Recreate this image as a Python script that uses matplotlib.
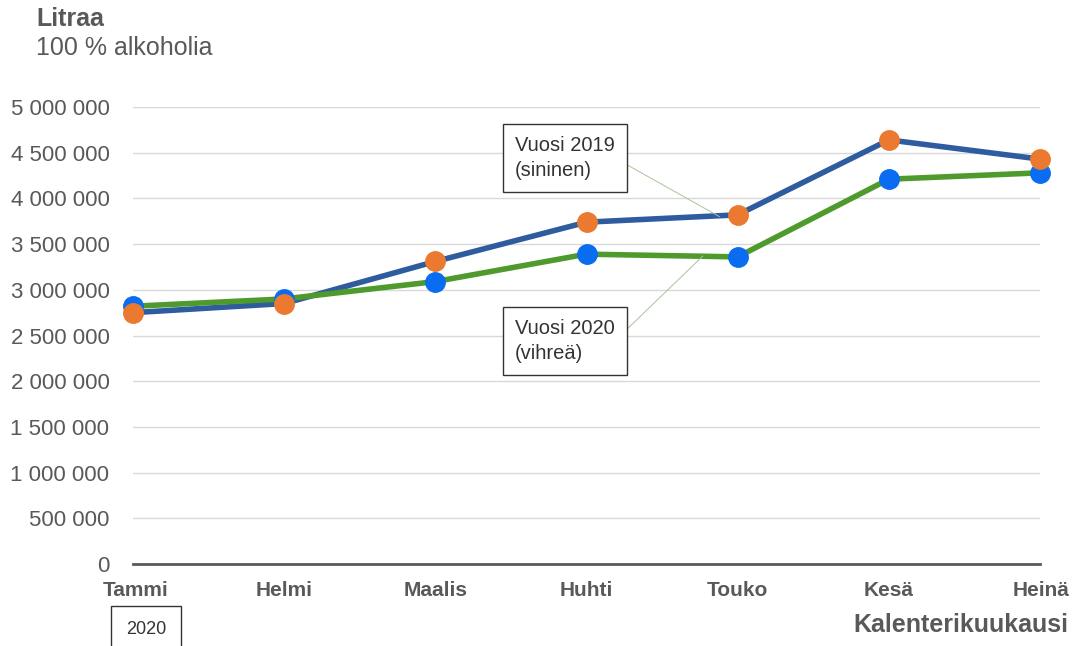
import matplotlib
matplotlib.use("Agg")
import matplotlib.pyplot as plt
import matplotlib.transforms as mtransforms
from matplotlib.ticker import FuncFormatter

plt.rcParams['font.family'] = ['Liberation Sans', 'DejaVu Sans']

months = ["Tammi", "Helmi", "Maalis", "Huhti", "Touko", "Kesä", "Heinä"]
vuosi_2019 = [2750000, 2850000, 3310000, 3740000, 3820000, 4640000, 4430000]
vuosi_2020 = [2820000, 2900000, 3090000, 3390000, 3360000, 4210000, 4280000]
y_ticks = [0, 500000, 1000000, 1500000, 2000000, 2500000, 3000000, 3500000, 4000000, 4500000, 5000000]

W, H = 1079, 646
fig = plt.figure(figsize=(W / 100, H / 100), dpi=100)
ax = fig.add_axes([133 / W, 1 - 564 / H, (1040 - 133) / W, (564 - 107) / H])

x = list(range(len(months)))
ax.plot(x, vuosi_2019, color="#2F5C9E", lw=4, solid_capstyle="round", zorder=3, clip_on=False)
ax.plot(x, vuosi_2020, color="#4F9A2C", lw=4, solid_capstyle="round", zorder=3, clip_on=False)
ax.plot(x, vuosi_2020, ls="none", marker="o", ms=14, color="#0A6CF0", zorder=4, clip_on=False)
ax.plot(x, vuosi_2019, ls="none", marker="o", ms=14, color="#EB7A30", zorder=5, clip_on=False)

ax.set_xlim(0, len(months) - 1)
ax.set_ylim(0, 5000000)
ax.set_yticks(y_ticks)
ax.yaxis.set_major_formatter(FuncFormatter(lambda v, p: f"{int(v):,}".replace(",", " ")))
ax.set_xticks(x)
ax.set_xticklabels(months, fontsize=15, fontweight="bold", color="#595959")
ax.tick_params(axis="y", length=0, labelsize=16, labelcolor="#595959", pad=17)
ax.tick_params(axis="x", length=0, pad=12)
labs = ax.get_xticklabels()
labs[0].set_transform(labs[0].get_transform() + mtransforms.ScaledTranslation(-30 / 100, 0, fig.dpi_scale_trans))
labs[0].set_ha("left")
labs[-1].set_transform(labs[-1].get_transform() + mtransforms.ScaledTranslation(30 / 100, 0, fig.dpi_scale_trans))
labs[-1].set_ha("right")

ax.grid(axis="y", color="#D9D9D9", lw=1)
ax.set_axisbelow(True)
for s in ["top", "right", "left"]:
    ax.spines[s].set_visible(False)
ax.spines["bottom"].set_color("#595959")
ax.spines["bottom"].set_linewidth(2)

# titles
fig.text(36 / W, 1 - 19 / H, "Litraa", fontsize=18, fontweight="bold", color="#595959", va="center")
fig.text(36 / W, 1 - 48 / H, "100 % alkoholia", fontsize=18, color="#595959", va="center")
fig.text(1068 / W, 1 - 625 / H, "Kalenterikuukausi", fontsize=18, fontweight="bold", color="#595959",
         va="center", ha="right")

# annotation boxes
box = dict(boxstyle="square,pad=0.6", fc="white", ec="#333333", lw=1)
ax.annotate("Vuosi 2019\n(sininen)", xy=(3.88, 3800000), xycoords="data",
            xytext=(515 / W, 1 - 158 / H), textcoords="figure fraction",
            fontsize=14.5, color="#333333", va="center", ha="left", bbox=box, zorder=6,
            linespacing=1.35,
            arrowprops=dict(arrowstyle="-", color="#A9C49A", lw=0.7, shrinkA=0, shrinkB=0,
                            relpos=(1, 0.5)))
ax.annotate("Vuosi 2020\n(vihreä)", xy=(3.77, 3370000), xycoords="data",
            xytext=(515 / W, 1 - 341 / H), textcoords="figure fraction",
            fontsize=14.5, color="#333333", va="center", ha="left", bbox=box, zorder=6,
            linespacing=1.35,
            arrowprops=dict(arrowstyle="-", color="#A9C49A", lw=0.7, shrinkA=0, shrinkB=0,
                            relpos=(1, 0.5)))
fig.text(146 / W, 1 - 630 / H, "2020", fontsize=13, color="#333333", va="center", ha="center",
         bbox=dict(boxstyle="square,pad=0.85", fc="white", ec="#333333", lw=1))

fig.savefig("out.png", dpi=100)
